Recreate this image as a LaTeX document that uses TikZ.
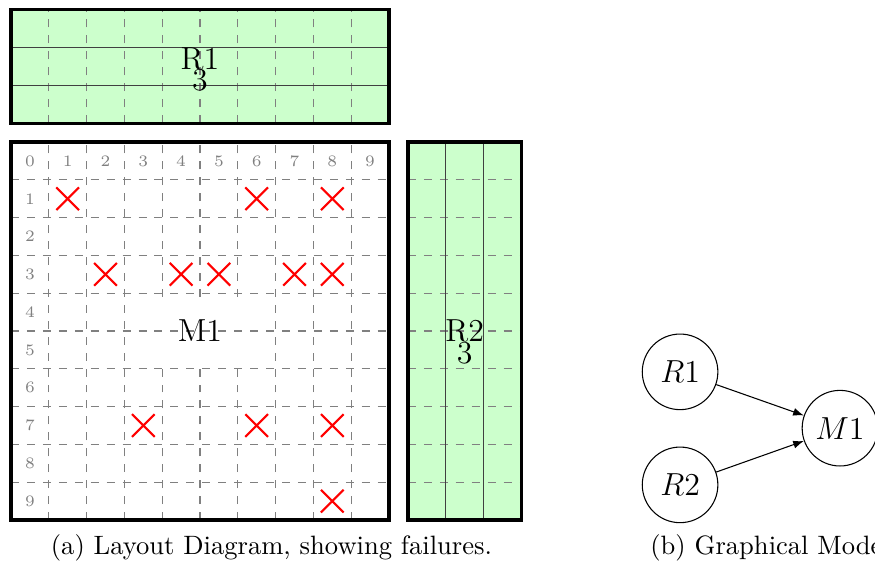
\documentclass[tikz,border=0pt]{standalone}
\usepackage{tikz}
\usetikzlibrary{arrows.meta,positioning}

\begin{document}
\begin{tikzpicture}[scale=0.5,
    gridline/.style={dashed, gray, line width=0.4pt},
    unitline/.style={black!75, line width=0.4pt},
    boxborder/.style={line width=1.2pt},
    failx/.style={red, line width=0.8pt},
    cellnum/.style={gray, font=\fontsize{6}{7}\selectfont},
    boxlabel/.style={font=\large, inner sep=0pt},
    var/.style={draw, circle, minimum size=1cm, inner sep=0pt, font=\large}]
    \useasboundingbox (-0.291,-1.111) rectangle (22.857,13.757);
    % R1
    \fill[green!20] (0,10.5) rectangle (10,13.5);
    \foreach \x in {1,...,9} \draw[gridline] (\x,10.5) -- (\x,13.5);
    \foreach \y in {11.5,12.5} \draw[unitline] (0,\y) -- (10,\y);
    \draw[boxborder] (0,10.5) rectangle (10,13.5);
    \node[boxlabel] (r1name) at (5,12.2) {R1};
    \node[boxlabel] (r1count) at (5,11.63) {3};
    % M1
    \foreach \x in {1,...,9} \draw[gridline] (\x,0) -- (\x,10);
    \fill[white] (3.95,4) rectangle (6.05,5.75);
    \foreach \y in {1,...,9} \draw[gridline] (0,\y) -- (10,\y);
    \draw[boxborder] (0,0) rectangle (10,10);
    \foreach \c in {0,...,9} \node[cellnum] (col\c) at (\c+0.5,9.5) {\c};
    \foreach \r in {1,...,9} \node[cellnum] (row\r) at (0.5,9.5-\r) {\r};
    \foreach \c/\r in {1/1,6/1,8/1,2/3,4/3,5/3,7/3,8/3,3/7,6/7,8/7,8/9}
      \draw[failx] (\c+0.2,9.8-\r) -- (\c+0.8,9.2-\r)
                   (\c+0.2,9.2-\r) -- (\c+0.8,9.8-\r);
    \node[boxlabel] (m1name) at (5,5) {M1};
    % R2
    \fill[green!20] (10.5,0) rectangle (13.5,10);
    \foreach \y in {1,...,9} \draw[gridline] (10.5,\y) -- (13.5,\y);
    \foreach \x in {11.5,12.5} \draw[unitline] (\x,0) -- (\x,10);
    \draw[boxborder] (10.5,0) rectangle (13.5,10);
    \node[boxlabel] (r2name) at (12,5) {R2};
    \node[boxlabel] (r2count) at (12,4.42) {3};
    % graphical model
    \node[var] (gR1) at (17.7,3.92) {$R1$};
    \node[var] (gR2) at (17.7,0.93) {$R2$};
    \node[var] (gM1) at (21.93,2.43) {$M1$};
    \draw[-{Latex[length=4pt,width=3pt]}] (gR1) -- (gM1);
    \draw[-{Latex[length=4pt,width=3pt]}] (gR2) -- (gM1);
    % captions
    \node (capa) at (6.89,-0.74) {(a) Layout Diagram, showing failures.};
    \node[anchor=west, inner sep=0pt] (capb) at (16.9,-0.74) {(b) Graphical Model};
\end{tikzpicture}
\end{document}
